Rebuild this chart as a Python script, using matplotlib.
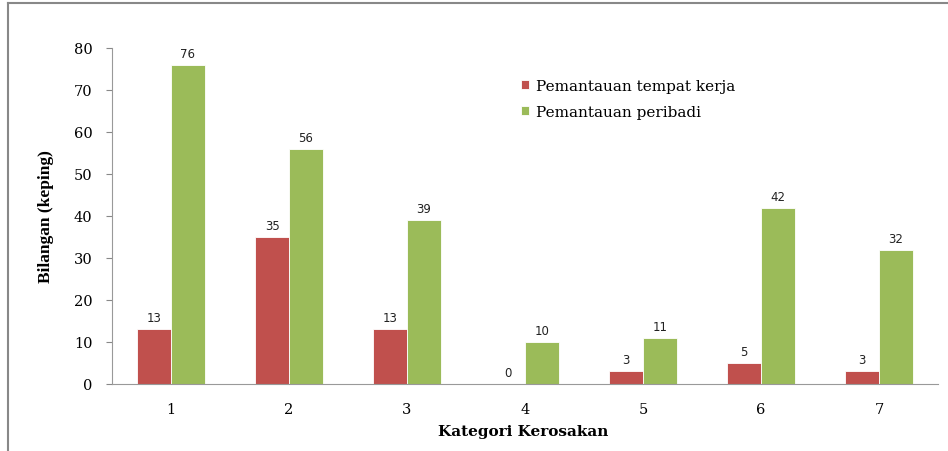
import numpy as np
import matplotlib
matplotlib.use('Agg')
import matplotlib.pyplot as plt

# Data
kategori = ['1', '2', '3', '4', '5', '6', '7']
tempat_kerja = [13, 35, 13, 0, 3, 5, 3]
peribadi = [76, 56, 39, 10, 11, 42, 32]
y_ticks = [0, 10, 20, 30, 40, 50, 60, 70, 80]

merah = '#C0504D'
hijau = '#9BBB59'

plt.rcParams['font.family'] = ['DejaVu Serif']

fig = plt.figure(figsize=(9.48, 4.52), dpi=100)
ax = fig.add_axes([112 / 948, 1 - 385 / 452, 826 / 948, 336 / 452])

x = np.arange(len(kategori))
w = 0.287
b1 = ax.bar(x - w / 2, tempat_kerja, w, color=merah, edgecolor='white', linewidth=0.6,
            label='Pemantauan tempat kerja')
b2 = ax.bar(x + w / 2, peribadi, w, color=hijau, edgecolor='white', linewidth=0.6,
            label='Pemantauan peribadi')

# label nilai di atas setiap bar
for bars, vals in ((b1, tempat_kerja), (b2, peribadi)):
    for r, v in zip(bars, vals):
        ax.text(r.get_x() + r.get_width() / 2, v + 1.2, str(v), ha='center', va='bottom',
                fontsize=8.5, color='#222222', family='DejaVu Sans')

ax.set_xlim(-0.5, len(kategori) - 0.5)
ax.set_ylim(0, 80)
ax.set_yticks(y_ticks)
ax.set_xticks(x)
ax.set_xticklabels(kategori)
ax.tick_params(axis='y', length=4, color='#888888', labelsize=10.5, pad=10)
ax.tick_params(axis='x', length=0, labelsize=10.5, pad=13)

for s in ('top', 'right'):
    ax.spines[s].set_visible(False)
ax.spines['left'].set_color('#999999')
ax.spines['bottom'].set_color('#999999')

ax.set_ylabel('Bilangan (keping)', fontsize=12.5, fontweight='bold', labelpad=14,
              family='Liberation Serif')
fig.text(523 / 948, 1 - 432 / 452, 'Kategori Kerosakan', ha='center', va='center',
         fontsize=11, fontweight='bold')

ax.legend(loc='upper left', bbox_to_anchor=(0.478, 0.948), frameon=False, fontsize=11,
          handlelength=0.55, handleheight=0.55, handletextpad=0.45, labelspacing=0.75)

# bingkai carta (atas dan kiri)
fig.add_artist(plt.Line2D([7.5 / 948, 7.5 / 948], [0, 1 - 4 / 452], transform=fig.transFigure,
                          color='#888888', lw=1.5))
fig.add_artist(plt.Line2D([7.5 / 948, 1], [1 - 4 / 452, 1 - 4 / 452], transform=fig.transFigure,
                          color='#888888', lw=1.5))

fig.savefig('out.png', dpi=100)
